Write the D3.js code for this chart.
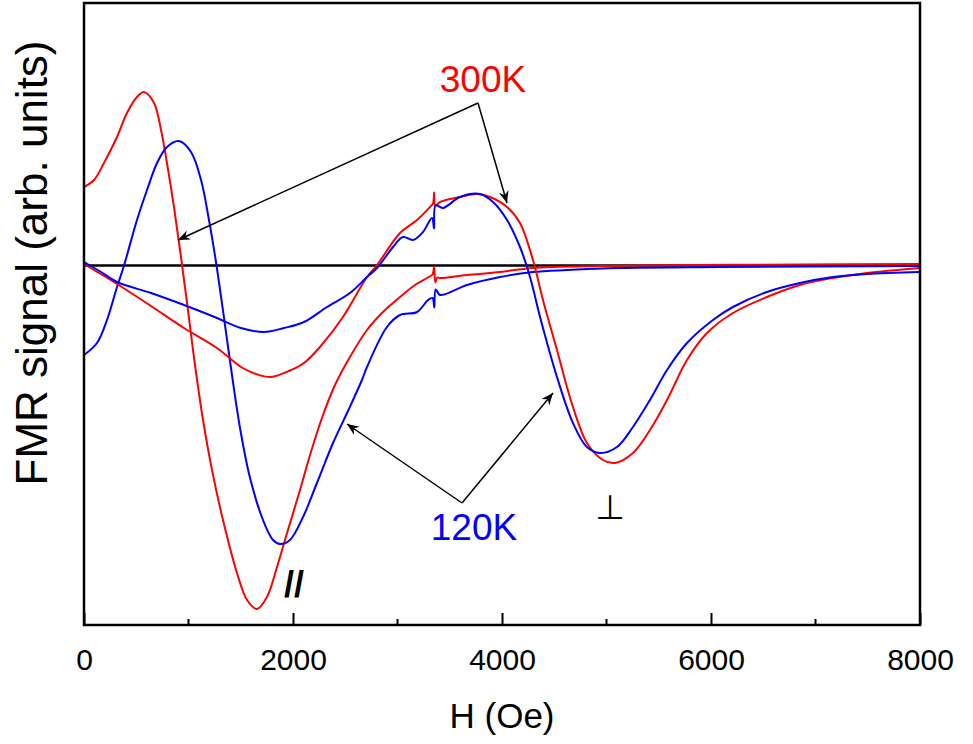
<!DOCTYPE html>
<html>
<head>
<meta charset="utf-8">
<script src="https://cdn.jsdelivr.net/npm/d3@7"></script>
<style>
  body { margin: 0; background: #fff; }
  svg { display: block; font-family: Arial, "Liberation Sans", sans-serif; }
</style>
</head>
<body>
<svg id="chart"></svg>
<script>
// Field values (Oe) and signals (arb. units)
const red300ParH = [0, 96, 191, 316, 411, 507, 574, 670, 737, 794, 861, 928, 995, 1062, 1139, 1225, 1330, 1464, 1560, 1655, 1751, 1847, 1923, 2067, 2163, 2277, 2402, 2545, 2708, 2861, 3024, 3167, 3282, 3335, 3350, 3362, 3380, 3407, 3665, 3981, 4296, 4938, 5894, 6851, 8000];
const red300ParV = [0.785, 0.855, 1.025, 1.285, 1.525, 1.685, 1.735, 1.625, 1.355, 1.025, 0.585, 0.085, -0.445, -0.995, -1.545, -2.045, -2.545, -3.075, -3.345, -3.435, -3.315, -3.015, -2.745, -2.245, -1.895, -1.525, -1.195, -0.915, -0.645, -0.465, -0.315, -0.195, -0.125, -0.09, -0.01, -0.17, -0.12, -0.125, -0.095, -0.065, -0.025, -0.005, 0.005, 0.01, 0.015];

const blue120ParH = [0, 124, 220, 316, 383, 507, 603, 699, 794, 909, 1024, 1120, 1196, 1263, 1340, 1416, 1493, 1589, 1713, 1809, 1876, 1971, 2096, 2229, 2383, 2517, 2660, 2708, 2899, 3024, 3187, 3292, 3335, 3352, 3365, 3407, 3665, 3981, 4296, 4622, 5129, 6086, 8000];
const blue120ParV = [-0.895, -0.775, -0.545, -0.215, 0.0, 0.455, 0.755, 1.025, 1.185, 1.245, 1.135, 0.855, 0.455, 0.035, -0.525, -1.095, -1.625, -2.125, -2.545, -2.745, -2.785, -2.745, -2.515, -2.175, -1.775, -1.475, -1.145, -1.015, -0.615, -0.495, -0.465, -0.345, -0.325, -0.42, -0.24, -0.295, -0.195, -0.115, -0.065, -0.045, -0.025, -0.015, -0.005];

const red300PerpH = [0, 316, 641, 957, 1273, 1502, 1646, 1789, 1981, 2105, 2258, 2478, 2708, 2804, 3024, 3187, 3311, 3340, 3350, 3362, 3407, 3598, 3761, 3885, 4048, 4172, 4296, 4392, 4526, 4679, 4813, 4966, 5081, 5253, 5416, 5579, 5770, 5962, 6210, 6535, 6851, 7167, 7493, 8000];
const red300PerpV = [0.015, -0.185, -0.405, -0.625, -0.825, -1.015, -1.085, -1.115, -1.045, -0.975, -0.815, -0.515, -0.115, 0.005, 0.325, 0.455, 0.585, 0.62, 0.73, 0.6, 0.635, 0.685, 0.715, 0.685, 0.585, 0.425, 0.055, -0.345, -0.845, -1.415, -1.775, -1.945, -1.975, -1.875, -1.645, -1.345, -0.945, -0.675, -0.475, -0.315, -0.195, -0.125, -0.075, -0.025];

const blue120PerpH = [0, 163, 316, 641, 957, 1273, 1502, 1722, 1914, 2105, 2325, 2545, 2708, 2804, 2957, 3053, 3148, 3244, 3330, 3350, 3365, 3435, 3598, 3789, 3914, 4048, 4172, 4268, 4364, 4526, 4679, 4813, 4938, 5100, 5253, 5416, 5579, 5770, 6019, 6210, 6535, 6851, 7167, 7493, 8000];
const blue120PerpV = [0.035, -0.065, -0.165, -0.275, -0.395, -0.525, -0.625, -0.665, -0.625, -0.565, -0.415, -0.275, -0.115, -0.025, 0.185, 0.285, 0.255, 0.335, 0.475, 0.37, 0.6, 0.575, 0.685, 0.715, 0.635, 0.455, 0.185, -0.115, -0.515, -1.115, -1.575, -1.815, -1.875, -1.815, -1.615, -1.345, -1.045, -0.775, -0.545, -0.415, -0.265, -0.175, -0.115, -0.085, -0.065];

const xMajorTicks = [0, 2000, 4000, 6000, 8000];
const xMinorTicks = [1000, 3000, 5000, 7000];

const width = 973;
const height = 744;
const margin = { top: 3, right: 53, bottom: 119, left: 84 };

const svg = d3.select("#chart")
  .attr("width", width)
  .attr("height", height);

const x = d3.scaleLinear()
  .domain([0, 8000])
  .range([margin.left, width - margin.right]);

const y = d3.scaleLinear()
  .domain([-3.595, 2.625])
  .range([height - margin.bottom, margin.top]);

const series = [
  { h: red300ParH, v: red300ParV, color: "#ff0000" },
  { h: blue120ParH, v: blue120ParV, color: "#0000ff" },
  { h: red300PerpH, v: red300PerpV, color: "#ff0000" },
  { h: blue120PerpH, v: blue120PerpV, color: "#0000ff" }
];

const line = d3.line()
  .x(d => x(d[0]))
  .y(d => y(d[1]))
  .curve(d3.curveCatmullRom.alpha(0.5));

// zero line
svg.append("line")
  .attr("x1", x(0)).attr("x2", x(8000))
  .attr("y1", y(0)).attr("y2", y(0))
  .attr("stroke", "#000")
  .attr("stroke-width", 2.5);

svg.selectAll(".curve")
  .data(series)
  .enter()
  .append("path")
  .attr("class", "curve")
  .attr("fill", "none")
  .attr("stroke", d => d.color)
  .attr("stroke-width", 2)
  .attr("d", d => line(d.h.map((h, i) => [h, d.v[i]])));

// frame
svg.append("rect")
  .attr("x", x(0)).attr("y", y.range()[1])
  .attr("width", x(8000) - x(0))
  .attr("height", y.range()[0] - y.range()[1])
  .attr("fill", "none")
  .attr("stroke", "#000")
  .attr("stroke-width", 2.5);

// x axis with inward ticks
const xAxis = d3.axisBottom(x)
  .tickValues(xMajorTicks)
  .tickFormat(d3.format("d"))
  .tickSizeInner(-12)
  .tickSizeOuter(0)
  .tickPadding(24);

const gx = svg.append("g")
  .attr("transform", `translate(0, ${y.range()[0]})`)
  .call(xAxis);
gx.select(".domain").remove();
gx.selectAll(".tick line").attr("stroke-width", 2);
gx.selectAll(".tick text")
  .attr("font-size", 30)
  .attr("font-family", "Arial, 'Liberation Sans', sans-serif")
  .attr("fill", "#000");

svg.append("g")
  .selectAll("line")
  .data(xMinorTicks)
  .enter()
  .append("line")
  .attr("x1", d => x(d)).attr("x2", d => x(d))
  .attr("y1", y.range()[0]).attr("y2", y.range()[0] - 6)
  .attr("stroke", "#000")
  .attr("stroke-width", 2);

// axis titles
svg.append("text")
  .attr("x", (x(0) + x(8000)) / 2)
  .attr("y", 728)
  .attr("text-anchor", "middle")
  .attr("font-size", 35)
  .text("H (Oe)");

svg.append("text")
  .attr("transform", "translate(47, 263) rotate(-90)")
  .attr("text-anchor", "middle")
  .attr("font-size", 44)
  .text("FMR signal (arb. units)");

// arrow marker
svg.append("defs").append("marker")
  .attr("id", "arrow")
  .attr("viewBox", "-12 -6 14 12")
  .attr("refX", 0).attr("refY", 0)
  .attr("markerWidth", 14).attr("markerHeight", 12)
  .attr("markerUnits", "userSpaceOnUse")
  .attr("orient", "auto")
  .append("path")
  .attr("d", "M0,0 L-12,-5 L-8,0 L-12,5 Z")
  .attr("fill", "#000");

function arrow(x1, y1, x2, y2) {
  svg.append("line")
    .attr("x1", x1).attr("y1", y1)
    .attr("x2", x2).attr("y2", y2)
    .attr("stroke", "#000")
    .attr("stroke-width", 1.5)
    .attr("marker-end", "url(#arrow)");
}

// 300K annotation
svg.append("text")
  .attr("x", 483).attr("y", 92)
  .attr("text-anchor", "middle")
  .attr("font-size", 37)
  .attr("fill", "#ff0000")
  .text("300K");
arrow(478, 103, 178, 240);
arrow(478, 103, 507, 203);

// 120K annotation
svg.append("text")
  .attr("x", 474).attr("y", 540)
  .attr("text-anchor", "middle")
  .attr("font-size", 37)
  .attr("fill", "#0000ff")
  .text("120K");
arrow(462, 503, 347, 424);
arrow(462, 503, 553, 393);

svg.append("text")
  .attr("x", 294).attr("y", 597)
  .attr("text-anchor", "middle")
  .attr("font-size", 36)
  .attr("font-weight", "bold")
  .text("//");

svg.append("text")
  .attr("x", 610).attr("y", 519)
  .attr("text-anchor", "middle")
  .attr("font-size", 34)
  .attr("font-family", "'DejaVu Sans', sans-serif")
  .text("⊥");
</script>
</body>
</html>
